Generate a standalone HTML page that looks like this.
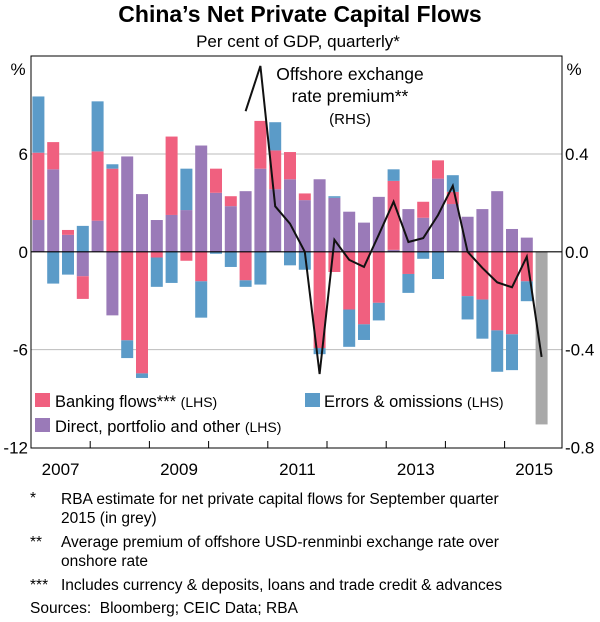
<!DOCTYPE html>
<html><head><meta charset="utf-8"><style>
body{margin:0;background:#fff;font-family:"Liberation Sans",sans-serif;}
svg text{font-family:"Liberation Sans",sans-serif;fill:#000;}
</style></head><body>
<svg width="600" height="617" viewBox="0 0 600 617" xmlns="http://www.w3.org/2000/svg">
<text x="300" y="22" text-anchor="middle" font-size="23" font-weight="bold">China’s Net Private Capital Flows</text>
<text x="298" y="47" text-anchor="middle" font-size="17">Per cent of GDP, quarterly*</text>
<g id="grid"></g>
<g id="bars"></g>
<g id="line"></g>
<rect x="31" y="56" width="531" height="392" fill="none" stroke="#000" stroke-width="1"/>
<g id="axes"></g>
<text x="18" y="75" text-anchor="middle" font-size="17">%</text>
<text x="574" y="75" text-anchor="middle" font-size="17">%</text>
<text x="350" y="80" text-anchor="middle" font-size="17.5">Offshore exchange</text>
<text x="350" y="102" text-anchor="middle" font-size="17.5">rate premium**</text>
<text x="350" y="124" text-anchor="middle" font-size="15">(RHS)</text>
<g>
<rect x="35" y="393" width="15" height="14" fill="#f0607f"/>
<text x="55" y="407" font-size="16.5">Banking flows*** <tspan font-size="14">(LHS)</tspan></text>
<rect x="35" y="418" width="15" height="14" fill="#9a7ab8"/>
<text x="55" y="432" font-size="16.5">Direct, portfolio and other <tspan font-size="14">(LHS)</tspan></text>
<rect x="305" y="393" width="15" height="14" fill="#5b9bc8"/>
<text x="324" y="407" font-size="16.5">Errors &amp; omissions <tspan font-size="14">(LHS)</tspan></text>
</g>
<g font-size="15.5">
<text x="30" y="503">*</text><text x="61" y="504">RBA estimate for net private capital flows for September quarter</text>
<text x="61" y="523">2015 (in grey)</text>
<text x="30" y="547">**</text><text x="61" y="547">Average premium of offshore USD-renminbi exchange rate over</text>
<text x="61" y="566">onshore rate</text>
<text x="30" y="590">***</text><text x="61" y="590">Includes currency &amp; deposits, loans and trade credit &amp; advances</text>
<text x="30" y="613">Sources:&#160;&#160;Bloomberg; CEIC Data; RBA</text>
</g>
</svg>
<script>
const purple=[1.95,5.06,1.04,-1.5,1.91,-3.9,5.85,3.54,1.95,2.26,2.56,6.52,3.62,2.8,3.72,5.1,3.84,4.45,3.17,4.45,3.31,2.46,1.79,3.37,0.12,2.62,2.09,4.49,2.93,2.15,2.62,3.72,1.4,0.87,0];
const pink=[4.13,1.67,0.3,-1.39,4.25,5.1,-5.43,-7.46,-0.35,4.81,-0.55,-1.81,1.48,0.61,-1.75,2.93,2.38,1.67,0.41,-5.91,-1.24,-3.54,-4.45,-3.13,4.23,-1.36,0.98,1.12,0.75,-2.72,-2.93,-4.82,-5.06,-1.81,0];
const blue=[3.45,-1.95,-1.4,1.59,3.07,0.27,-1.09,-0.28,-1.8,-1.91,2.54,-2.23,-0.12,-0.93,-0.4,-2.01,1.73,-0.83,-1.1,-0.37,0.1,-2.29,-0.96,-1.08,0.71,-1.16,-0.43,-1.67,1.02,-1.43,-2.4,-2.54,-2.2,-1.22,0];
const grey=[0,0,0,0,0,0,0,0,0,0,0,0,0,0,0,0,0,0,0,0,0,0,0,0,0,0,0,0,0,0,0,0,0,0,-10.59];
const premium=[null,null,null,null,null,null,null,null,null,null,null,null,null,null,0.575,0.76,0.186,0.115,0.0,-0.5,0.049,-0.033,-0.062,0.07,0.205,0.04,0.056,0.15,0.27,0.0,-0.066,-0.125,-0.145,-0.02,-0.43];
const leftTicks=[6,0,-6,-12];
const rightTicks=["0.4","0.0","-0.4","-0.8"];
const years=["2007","2009","2011","2013","2015"];
const NS="http://www.w3.org/2000/svg";
const X0=31,QW=14.8,Z=251.8,U=16.3;
const yL=v=>Z-v*U;
const yR=v=>Z-v*15*U;
const xq=i=>X0+QW*i+QW/2;
function mk(p,t,a){const e=document.createElementNS(NS,t);for(const k in a)e.setAttribute(k,a[k]);p.appendChild(e);return e;}
const g=document.getElementById('grid'),b=document.getElementById('bars'),l=document.getElementById('line'),ax=document.getElementById('axes');
leftTicks.forEach((t,i)=>{
  if(t!==-12&&t!==0){const ln=mk(g,'line',{x1:X0,x2:562,y1:yL(t),y2:yL(t),stroke:'#bbb','stroke-width':1});
  
  }
  const tx=mk(ax,'text',{x:28,y:yL(t)+6,'text-anchor':'end','font-size':17});tx.textContent=t;
  
  
  const tr=mk(ax,'text',{x:565,y:yL(t)+6,'font-size':17});tr.textContent=rightTicks[i];
  
  
});
const bw=12;
function seg(i,v0,v1,col,name){
  const r=mk(b,'rect',{x:xq(i)-bw/2,y:Math.min(yL(v0),yL(v1)),width:bw,height:Math.abs(yL(v0)-yL(v1)),fill:col});
  
  
}
for(let i=0;i<purple.length;i++){
  let pos=0,neg=0;
  [[purple[i],'#9a7ab8','bar-direct'],[pink[i],'#f0607f','bar-banking'],[blue[i],'#5b9bc8','bar-errors'],[grey[i],'#a9a9a9','bar-estimate']].forEach(([v,c,n])=>{
    if(v>0){seg(i,pos,pos+v,c,n);pos+=v;}else if(v<0){seg(i,neg,neg+v,c,n);neg+=v;}
  });
}
const zl=mk(b,'line',{x1:X0,x2:562,y1:Z,y2:Z,stroke:'#000','stroke-width':1.2});


let pts=[];premium.forEach((v,i)=>{if(v!==null)pts.push(xq(i)+','+yR(v));});
const pl=mk(l,'polyline',{points:pts.join(' '),fill:'none',stroke:'#111','stroke-width':2});


for(let k=1;k<9;k++){const x=X0+k*4*QW;const t=mk(ax,'line',{x1:x,x2:x,y1:448,y2:441,stroke:'#000'});
  
  }
years.forEach((yr,k)=>{const t=mk(ax,'text',{x:X0+(k*2+0.5)*4*QW,y:475,'text-anchor':'middle','font-size':17});t.textContent=yr;
  
  });
</script>
</body></html>
